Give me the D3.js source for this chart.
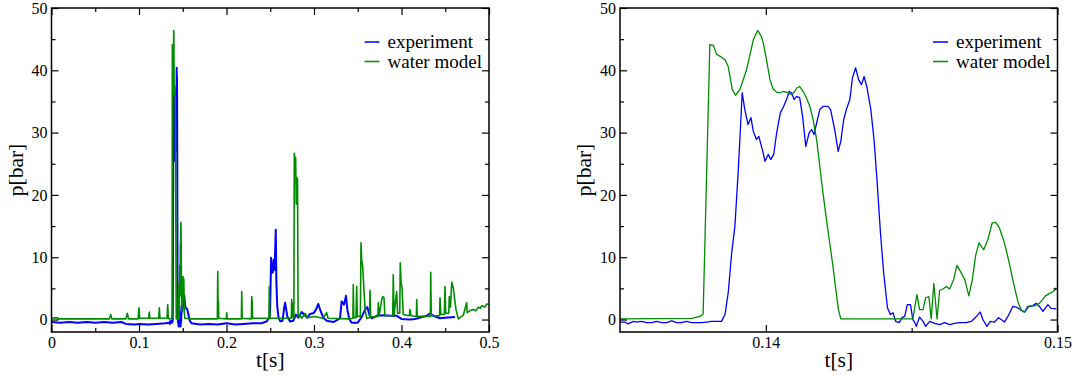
<!DOCTYPE html>
<html>
<head>
<meta charset="utf-8">
<script src="https://cdn.jsdelivr.net/npm/d3@7"></script>
<style>
  body { margin: 0; background: #fff; }
  svg { display: block; }
  svg text { font-family: 'Liberation Serif', Tinos, 'Times New Roman', Times, 'DejaVu Serif', serif !important; fill: #000; }
</style>
</head>
<body>
<svg id="chart" width="1075" height="376"></svg>
<script>
// ---- data: [t in s, p in bar] ----
// close-up 0.135 .. 0.15 s (also used inside the overview)
const expDetail = [
  [0.13500,-0.4],[0.13517,-0.4],[0.13528,-0.7],[0.13546,-0.3],[0.13557,-0.4],[0.13574,-0.3],
  [0.13591,-0.5],[0.13609,-0.5],[0.13626,-0.3],[0.13643,-0.5],[0.13660,-0.5],[0.13677,-0.2],
  [0.13694,-0.5],[0.13711,-0.5],[0.13728,-0.3],[0.13746,-0.5],[0.13780,-0.5],[0.13797,-0.4],
  [0.13814,-0.3],[0.13848,-0.3],[0.13860,0.8],[0.13871,4.3],[0.13883,10.7],[0.13894,15.0],
  [0.13905,23.5],[0.13911,28.9],[0.13919,36.4],[0.13928,33.7],[0.13939,31.3],[0.13949,32.4],
  [0.13957,30.2],[0.13968,28.9],[0.13976,29.4],[0.13991,26.7],[0.13997,25.4],[0.14008,26.5],
  [0.14017,25.7],[0.14027,26.5],[0.14037,29.9],[0.14050,33.2],[0.14059,34.0],[0.14071,35.3],
  [0.14080,36.6],[0.14088,36.4],[0.14097,35.3],[0.14105,35.8],[0.14116,35.6],[0.14126,32.6],
  [0.14137,27.8],[0.14148,29.9],[0.14157,30.5],[0.14165,29.7],[0.14174,31.5],[0.14185,33.7],
  [0.14196,34.2],[0.14213,34.2],[0.14222,33.7],[0.14236,30.5],[0.14248,27.0],[0.14257,28.6],
  [0.14267,32.1],[0.14276,33.7],[0.14288,35.3],[0.14297,38.8],[0.14308,40.4],[0.14318,38.5],
  [0.14328,37.7],[0.14337,39.0],[0.14347,37.2],[0.14360,33.7],[0.14371,28.9],[0.14381,22.5],
  [0.14393,13.9],[0.14404,7.5],[0.14417,1.9],[0.14427,0.8],[0.14436,1.1],[0.14445,-0.3],
  [0.14457,-0.5],[0.14467,0.3],[0.14476,0.5],[0.14485,2.4],[0.14496,2.4],[0.14504,0.0],
  [0.14510,-0.4],[0.14516,-1.1],[0.14527,0.4],[0.14539,-0.3],[0.14548,-1.1],[0.14562,-0.3],
  [0.14579,-0.6],[0.14596,-0.8],[0.14613,-0.5],[0.14630,-0.8],[0.14647,-0.6],[0.14664,-0.5],
  [0.14687,-0.5],[0.14704,-0.3],[0.14722,0.5],[0.14735,1.2],[0.14744,0.0],[0.14758,-1.1],
  [0.14770,-0.3],[0.14784,-0.4],[0.14798,0.3],[0.14807,0.0],[0.14818,-0.4],[0.14830,0.5],
  [0.14847,2.1],[0.14859,2.0],[0.14872,1.6],[0.14887,1.2],[0.14898,2.1],[0.14910,2.1],
  [0.14927,2.6],[0.14938,2.1],[0.14950,1.3],[0.14967,2.4],[0.14978,1.8],[0.14996,1.7]
];
const waterDetail = [
  [0.13500,0.1],[0.13746,0.2],[0.13774,0.5],[0.13785,0.9],[0.13808,44.1],[0.13820,44.0],
  [0.13831,42.6],[0.13848,42.1],[0.13860,41.7],[0.13871,40.6],[0.13885,36.9],[0.13896,36.0],
  [0.13911,36.9],[0.13934,40.1],[0.13957,44.9],[0.13972,46.4],[0.13985,45.4],[0.13991,44.4],
  [0.14002,41.8],[0.14014,38.5],[0.14025,37.0],[0.14037,36.5],[0.14048,36.4],[0.14059,36.6],
  [0.14071,36.5],[0.14088,36.1],[0.14099,36.6],[0.14107,37.2],[0.14116,37.4],[0.14128,36.6],
  [0.14139,35.6],[0.14151,34.2],[0.14162,32.1],[0.14174,28.9],[0.14185,24.6],[0.14196,20.3],
  [0.14208,16.0],[0.14219,12.3],[0.14230,8.6],[0.14240,4.8],[0.14249,1.6],[0.14257,0.1],
  [0.14504,0.1],[0.14518,4.0],[0.14527,1.6],[0.14539,1.6],[0.14548,3.5],[0.14559,3.7],
  [0.14567,0.1],[0.14576,5.8],[0.14587,0.1],[0.14596,4.7],[0.14607,4.9],[0.14619,5.3],
  [0.14630,4.9],[0.14644,6.4],[0.14655,8.7],[0.14670,7.5],[0.14682,6.4],[0.14696,3.8],
  [0.14708,6.4],[0.14719,10.2],[0.14731,12.3],[0.14747,11.2],[0.14761,12.8],[0.14776,15.5],
  [0.14788,15.6],[0.14801,14.7],[0.14818,12.3],[0.14833,9.4],[0.14849,5.9],[0.14864,2.9],
  [0.14876,1.5],[0.14887,1.2],[0.14904,2.2],[0.14921,2.2],[0.14938,2.6],[0.14959,3.8],
  [0.14973,4.2],[0.14986,4.5],[0.14996,5.1]
];
// rest of the 0 .. 0.5 s record
const expWide = [
  [0.000,-0.4],[0.010,-0.5],[0.020,-0.4],[0.030,-0.5],[0.040,-0.4],[0.050,-0.5],[0.060,-0.4],
  [0.070,-0.5],[0.080,-0.4],[0.085,-0.7],[0.095,-0.8],[0.100,-0.7],[0.110,-0.8],[0.120,-0.7],
  [0.130,-0.6],[0.1345,-0.5],
  [0.1510,3.0],[0.1518,3.8],[0.1525,2.5],[0.1535,1.8],[0.1550,1.7],[0.1565,0.8],[0.1580,-0.2],
  [0.160,-0.6],[0.170,-0.8],[0.180,-0.7],[0.190,-0.8],[0.200,-0.6],[0.210,-0.8],[0.220,-0.7],
  [0.230,-0.6],[0.240,-0.6],[0.246,-0.3],[0.2497,0.5],[0.2510,9.9],[0.2520,7.5],[0.2530,7.6],
  [0.2540,9.6],[0.2550,8.0],[0.2563,14.4],[0.2570,6.0],[0.2580,2.1],[0.2595,0.3],[0.2615,-0.3],
  [0.2640,-0.2],[0.2660,2.0],[0.2670,2.7],[0.2695,0.5],[0.2726,-0.3],[0.2763,-0.2],[0.2794,0.8],
  [0.2821,0.3],[0.2859,1.2],[0.2886,0.8],[0.2923,0.3],[0.2954,0.9],[0.2992,1.0],[0.3023,1.6],
  [0.3049,2.5],[0.3077,1.3],[0.3106,0.3],[0.3145,-0.2],[0.3221,-0.4],[0.3297,0.2],[0.3316,2.9],
  [0.3343,2.4],[0.3366,3.8],[0.3381,1.6],[0.3403,0.1],[0.3430,-0.5],[0.3500,-0.5],[0.3545,0.4],
  [0.3583,1.6],[0.3609,2.0],[0.3632,0.8],[0.3659,0.2],[0.3717,0.6],[0.380,0.7],[0.388,0.6],
  [0.3945,0.6],[0.400,0.1],[0.410,0.0],[0.4154,0.1],[0.4288,0.6],[0.4326,1.0],[0.4363,0.6],
  [0.4440,0.2],[0.4500,0.3],[0.4611,0.4]
];
const waterWide = [
  [0.000,0.2],[0.007,0.3],[0.0075,0.1],[0.066,0.1],[0.0677,0.8],[0.069,0.1],[0.085,0.1],
  [0.0867,1.0],[0.088,0.1],[0.099,0.1],[0.1000,1.9],[0.1008,0.2],[0.1110,0.2],[0.1118,1.2],
  [0.1125,0.2],[0.1225,0.2],[0.1232,1.9],[0.1240,0.2],[0.1320,0.2],[0.1328,2.4],[0.1336,0.2],
  [0.1345,0.1],
  [0.1503,6.9],[0.1508,3.0],[0.1512,6.5],[0.1518,1.0],[0.1525,0.2],[0.160,0.1],[0.170,0.1],
  [0.180,0.1],[0.1895,0.1],[0.1900,7.7],[0.1905,0.2],[0.1908,2.9],[0.1912,0.2],[0.1998,0.1],
  [0.2002,1.1],[0.2008,0.1],[0.2170,0.1],[0.2174,4.5],[0.2180,0.2],[0.2284,0.1],[0.2288,3.7],
  [0.2293,2.9],[0.2298,0.2],[0.2485,0.2],[0.2489,5.3],[0.2493,1.7],[0.2500,0.2],[0.2740,0.2],
  [0.2745,3.2],[0.2750,0.3],[0.2763,2.7],[0.2770,0.3],[0.2775,26.7],[0.2782,25.5],[0.2790,26.0],
  [0.2797,18.5],[0.2803,22.8],[0.2812,22.5],[0.2818,0.5],[0.2840,0.8],[0.2860,0.2],[0.2900,1.0],
  [0.2920,0.3],[0.3011,0.5],[0.3100,0.2],[0.3145,1.1],[0.3160,0.2],[0.3400,0.1],[0.3445,0.2],
  [0.3449,5.6],[0.3455,0.3],[0.3480,0.3],[0.3488,5.3],[0.3495,0.5],[0.3530,0.5],[0.3537,12.3],
  [0.3545,9.5],[0.3556,8.6],[0.3570,5.0],[0.3585,1.5],[0.3602,0.2],[0.3635,0.3],[0.3640,4.7],
  [0.3648,0.4],[0.3730,0.5],[0.3735,2.7],[0.3745,0.6],[0.3774,3.2],[0.3785,3.7],[0.3800,3.5],
  [0.3810,0.6],[0.3900,0.6],[0.3906,7.2],[0.3915,0.8],[0.3945,4.5],[0.3955,1.0],[0.3980,1.0],
  [0.3986,9.1],[0.3995,6.0],[0.4006,5.1],[0.4020,0.8],[0.4090,0.6],[0.4097,1.6],[0.4110,0.6],
  [0.4170,0.5],[0.4174,3.2],[0.4180,0.5],[0.4330,0.5],[0.4334,7.6],[0.4340,0.6],[0.4435,0.6],
  [0.4440,3.5],[0.4450,0.8],[0.4490,0.8],[0.4497,5.3],[0.4505,1.0],[0.4540,1.0],[0.4546,3.7],
  [0.4560,2.0],[0.4574,6.0],[0.4592,5.1],[0.4610,3.0],[0.4623,1.6],[0.4649,0.1],[0.4706,0.7],
  [0.4745,2.7],[0.4750,1.1],[0.4780,1.4],[0.4820,1.6],[0.4850,1.4],[0.4878,2.0],[0.4900,1.8],
  [0.4916,2.2],[0.4954,2.0],[0.4975,2.5],[0.5000,2.4]
];

const seriesNames = ["experiment", "water model"];
const seriesColors = ["#0000ff", "#008c00"];

const yMajor = [0, 10, 20, 30, 40, 50];
const yMinor = [5, 15, 25, 35, 45];
const leftXMajor = [0, 0.1, 0.2, 0.3, 0.4, 0.5];
const leftXLabels = ["0", "0.1", "0.2", "0.3", "0.4", "0.5"];
const leftXMinor = [0.05, 0.15, 0.25, 0.35, 0.45];
const rightXMajor = [0.14, 0.15];
const rightXLabels = ["0.14", "0.15"];
const rightXMinor = [0.145];

const byT = (a, b) => a[0] - b[0];
const expAll = expWide.concat(expDetail).sort(byT);
const waterAll = waterWide.concat(waterDetail).sort(byT);

const svg = d3.select("#chart");
const W = 437.5, H = 324, TOP = 8;

function panel(left, xDomain, xMajor, xLabels, xMinor, series, lw, clipId) {
  const g = svg.append("g").attr("transform", `translate(${left},${TOP})`);
  const x = d3.scaleLinear().domain(xDomain).range([0, W]);
  const y = d3.scaleLinear().domain([-2, 50]).range([H, 0]);

  g.append("clipPath").attr("id", clipId)
    .append("rect").attr("width", W).attr("height", H);

  const line = d3.line().x(d => x(d[0])).y(d => y(d[1]));
  series.forEach((s, i) => {
    g.append("path")
      .datum(s)
      .attr("clip-path", `url(#${clipId})`)
      .attr("fill", "none")
      .attr("stroke", seriesColors[i])
      .attr("stroke-width", lw[i])
      .attr("stroke-linejoin", "round")
      .attr("d", line);
  });

  // inward ticks on all four sides
  const ax = [
    [d3.axisBottom(x).tickValues(xMajor).tickSize(-7).tickPadding(5).tickFormat((d, i) => xLabels[i]), `translate(0,${H})`],
    [d3.axisBottom(x).tickValues(xMinor).tickSize(-4).tickFormat(""), `translate(0,${H})`],
    [d3.axisTop(x).tickValues(xMajor).tickSize(-7).tickFormat(""), null],
    [d3.axisTop(x).tickValues(xMinor).tickSize(-4).tickFormat(""), null],
    [d3.axisLeft(y).tickValues(yMajor).tickSize(-7).tickPadding(4).tickFormat(d3.format("d")), null],
    [d3.axisLeft(y).tickValues(yMinor).tickSize(-4).tickFormat(""), null],
    [d3.axisRight(y).tickValues(yMajor).tickSize(-7).tickFormat(""), `translate(${W},0)`],
    [d3.axisRight(y).tickValues(yMinor).tickSize(-4).tickFormat(""), `translate(${W},0)`]
  ];
  ax.forEach(([a, tr]) => {
    const ag = g.append("g").call(a).attr("font-family", null).attr("font-size", 16);
    if (tr) ag.attr("transform", tr);
    ag.select(".domain").remove();
    ag.selectAll("line").attr("stroke", "#000").attr("stroke-width", 1.2);
    ag.selectAll("text").attr("fill", "#000");
  });

  g.append("rect").attr("width", W).attr("height", H)
    .attr("fill", "none").attr("stroke", "#000").attr("stroke-width", 1.5);

  // axis titles
  g.append("text").attr("x", W / 2).attr("y", 359)
    .attr("text-anchor", "middle").attr("font-size", 21.5).text("t[s]");
  g.append("text").attr("transform", `translate(-29,${H / 2}) rotate(-90)`)
    .attr("text-anchor", "middle").attr("font-size", 21.5).text("p[bar]");

  // legend
  seriesNames.forEach((n, i) => {
    const ly = 34 + i * 19.5;
    g.append("line").attr("x1", 313).attr("x2", 328).attr("y1", ly).attr("y2", ly)
      .attr("stroke", seriesColors[i]).attr("stroke-width", 1.5);
    g.append("text").attr("x", 336).attr("y", ly + 6).attr("font-size", 19).text(n);
  });
}

panel(51.5, [0, 0.5], leftXMajor, leftXLabels, leftXMinor, [expAll, waterAll], [2, 1.6], "clipL");
panel(620, [0.135, 0.15], rightXMajor, rightXLabels, rightXMinor, [expDetail, waterDetail], [1.3, 1.3], "clipR");
</script>
</body>
</html>
